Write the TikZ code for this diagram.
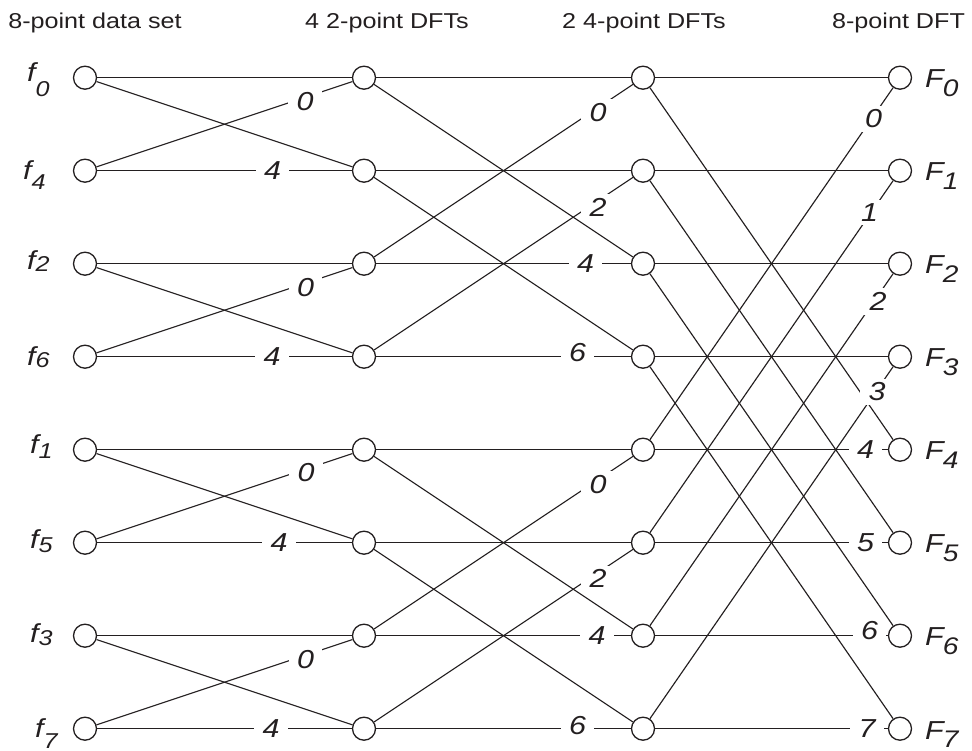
\documentclass[tikz,border=0pt]{standalone}
\usepackage{fontspec}
\setmainfont{Liberation Sans}[FakeStretch=1.17]
\definecolor{ink}{HTML}{231F20}
\newcommand\sig[3]{{\fontsize{26}{26}\selectfont\itshape #1\raisebox{-#3pt}{\fontsize{21.5}{21.5}\selectfont #2}}}
\newcommand\sigF[3]{{\fontsize{26}{26}\selectfont\itshape #1\kern-1pt\raisebox{-#3pt}{\fontsize{24}{24}\selectfont #2}}}
\tikzset{
  pt/.style={circle, draw=ink, line width=1.3pt, minimum size=23pt, inner sep=0pt, fill=white},
  wire/.style={draw=ink, line width=1.15pt},
  wl/.style={fill=white, inner xsep=8.5pt, inner ysep=4pt, text=ink, font=\fontsize{26}{26}\selectfont\itshape},
  hdr/.style={anchor=base, inner sep=0pt, text=ink, font=\fontsize{21.5}{21.5}\selectfont},
  io/.style={anchor=base west, inner sep=0pt, text=ink},
}
\begin{document}
\begin{tikzpicture}[x=1pt,y=-1pt]
\useasboundingbox (0,0) rectangle (972,751);
% headers
\node[hdr] (h1) at (95,29) {8-point data set};
\node[hdr] (h2) at (387,29) {4 2-point DFTs};
\node[hdr] (h3) at (644,29) {2 4-point DFTs};
\node[hdr] (h4) at (898.5,29) {8-point DFT};
% circles
\foreach \i in {0,...,7}{
  \pgfmathsetmacro\yy{77.7+93*\i}
  \node[pt] (a\i) at (85,\yy) {};
  \node[pt] (b\i) at (364,\yy) {};
  \node[pt] (c\i) at (643,\yy) {};
  \node[pt] (d\i) at (900,\yy) {};
}
% stage 1
\foreach \k in {0,2,4,6}{
  \pgfmathtruncatemacro\m{\k+1}
  \draw[wire] (a\k) -- (b\k);
  \draw[wire] (a\k) -- (b\m);
  \draw[wire] (a\m) -- (b\k);
  \draw[wire] (a\m) -- (b\m);
}
% stage 2
\foreach \j in {0,1,4,5}{
  \pgfmathtruncatemacro\m{\j+2}
  \draw[wire] (b\j) -- (c\j);
  \draw[wire] (b\j) -- (c\m);
  \draw[wire] (b\m) -- (c\j);
  \draw[wire] (b\m) -- (c\m);
}
% stage 3
\foreach \j in {0,...,3}{
  \pgfmathtruncatemacro\m{\j+4}
  \draw[wire] (c\j) -- (d\j);
  \draw[wire] (c\j) -- (d\m);
  \draw[wire] (c\m) -- (d\j);
  \draw[wire] (c\m) -- (d\m);
}
% stage 1 weights
\node[wl] (p1a) at (305,102) {0};
\node[wl] (p1b) at (272.5,170.7) {4};
\node[wl] (p1c) at (305.5,287.5) {0};
\node[wl] (p1d) at (272,356.7) {4};
\node[wl] (p1e) at (306,473) {0};
\node[wl] (p1f) at (279,542.7) {4};
\node[wl] (p1g) at (305.5,660) {0};
\node[wl] (p1h) at (271,728.7) {4};
% stage 2 weights
\node[wl] (p2a) at (598,112.5) {0};
\node[wl] (p2b) at (598,207) {2};
\node[wl] (p2c) at (585.5,263.7) {4};
\node[wl] (p2d) at (577.5,353) {6};
\node[wl] (p2e) at (598,484.7) {0};
\node[wl] (p2f) at (598,578.7) {2};
\node[wl] (p2g) at (597,635.7) {4};
\node[wl] (p2h) at (577.5,725.7) {6};
% stage 3 weights
\node[wl] (p3a) at (873.5,119) {0};
\node[wl] (p3b) at (869.5,212.5) {1};
\node[wl] (p3c) at (878,301.5) {2};
\node[wl] (p3d) at (877,392) {3};
\node[wl] (p3e) at (865.5,449.7) {4};
\node[wl] (p3f) at (865.5,542.7) {5};
\node[wl] (p3g) at (869.5,631) {6};
\node[wl] (p3h) at (867,728.7) {7};
% input labels
\node[io] (lf0) at (27,82) {\sig{f}{0}{15}};
\node[io] (lf4) at (23,180) {\sig{f}{4}{10}};
\node[io] (lf2) at (27,270) {\sig{f}{2}{2}};
\node[io] (lf6) at (27,365) {\sig{f}{6}{2}};
\node[io] (lf1) at (30,453) {\sig{f}{1}{5}};
\node[io] (lf5) at (30,548) {\sig{f}{5}{4}};
\node[io] (lf3) at (30,642) {\sig{f}{3}{3}};
\node[io] (lf7) at (35,737) {\sig{f}{7}{11}};
% output labels
\foreach \i in {0,...,6}{
  \pgfmathsetmacro\yy{77.7+93*\i+10}
  \node[io] (lF\i) at (925,\yy) {\sigF{F}{\i}{9}};
}
\node[io] (lF7) at (925,739) {\sigF{F}{7}{8}};
\end{tikzpicture}
\end{document}
